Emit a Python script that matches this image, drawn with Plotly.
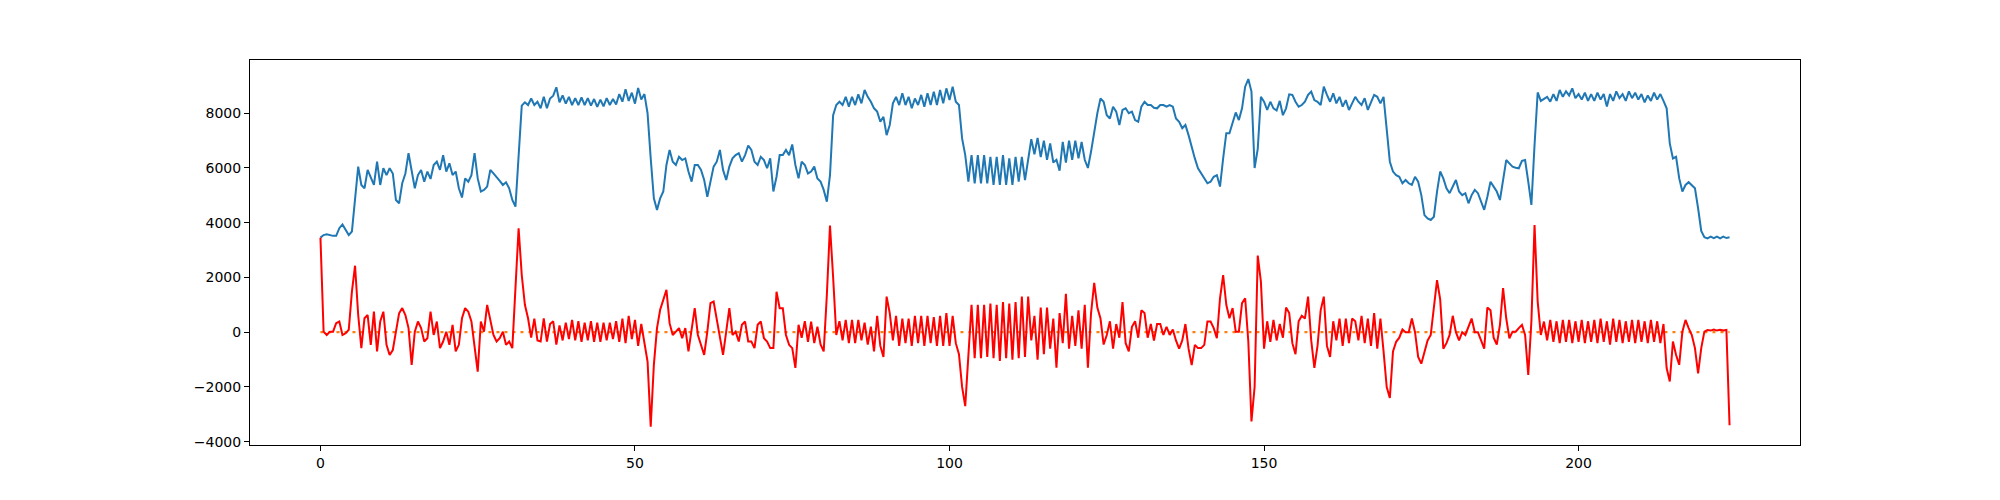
import plotly.graph_objects as go

# sample spacing along x (samples every half unit)
STEP = 0.5

blue = [
    3456, 3550, 3580, 3550, 3520, 3520, 3800, 3940, 3740, 3550,
    3680, 5010, 6050, 5380, 5260, 5930, 5680, 5380, 6230, 5380,
    5990, 5740, 5990, 5800, 4830, 4710, 5440, 5800, 6540, 5870,
    5260, 5740, 5930, 5500, 5870, 5600, 6110, 6230, 5930, 6470,
    5870, 6170, 5740, 5870, 5260, 4920, 5620, 5500, 5740, 6540,
    5620, 5140, 5200, 5320, 5930, 5800, 5680, 5530, 5380, 5480,
    5260, 4830, 4590, 6470, 8280, 8400, 8300, 8540, 8300, 8420,
    8180, 8600, 8180, 8540, 8640, 8950, 8400, 8650, 8350, 8600,
    8300, 8550, 8300, 8580, 8300, 8550, 8280, 8520, 8230, 8500,
    8250, 8550, 8300, 8520, 8320, 8700, 8420, 8880, 8450, 8750,
    8350, 8920, 8500, 8700, 8000, 6350, 4890, 4470, 4890, 5140,
    6110, 6660, 6230, 6110, 6410, 6290, 6350, 5870, 5500, 6110,
    6110, 5930, 5560, 4950, 5560, 6050, 6230, 6660, 5930, 5560,
    6050, 6350, 6470, 6540, 6230, 6470, 6820, 6660, 6230, 6110,
    6410, 6290, 5990, 6350, 5140, 5680, 6470, 6470, 6660, 6470,
    6860, 6110, 5620, 6230, 6110, 5800, 5870, 6050, 5620, 5500,
    5200, 4770, 5740, 7930, 8300, 8420, 8300, 8600, 8240, 8600,
    8300, 8690, 8360, 8850, 8600, 8420, 8180, 8060, 7690, 7870,
    7200, 7570, 8360, 8600, 8300, 8730, 8300, 8600, 8180, 8540,
    8300, 8670, 8240, 8730, 8300, 8790, 8300, 8850, 8360, 8910,
    8480, 8970, 8420, 8300, 7080, 6470, 5500, 6470, 5440, 6470,
    5440, 6470, 5440, 6410, 5380, 6410, 5380, 6470, 5380, 6350,
    5380, 6410, 5500, 6410, 5560, 6300, 7050, 6500, 7100, 6400,
    7000, 6300, 6900, 6200, 6300, 5900, 6950, 6200, 7000, 6300,
    7000, 6350, 6950, 6300, 6000, 6600, 7350, 8000, 8540, 8420,
    7930, 7810, 8240, 8060, 7570, 8120, 8180, 8000, 8060, 7750,
    7690, 8240, 8420, 8300, 8300, 8200, 8180, 8300, 8300, 8240,
    8300, 8240, 7810, 7690, 7450, 7570, 7200, 6720, 6350, 5990,
    5800, 5620, 5440, 5500, 5680, 5740, 5320, 6350, 7270, 7270,
    7690, 8030, 7750, 8180, 8970, 9250, 8790, 6000, 6700, 8600,
    8420, 8120, 8420, 8180, 8100, 8450, 7930, 8180, 8690, 8670,
    8420, 8240, 8300, 8420, 8670, 8790, 8480, 8420, 8300, 8970,
    8670, 8420, 8730, 8360, 8600, 8240, 8480, 8120, 8360, 8600,
    8420, 8300, 8550, 8120, 8400, 8670, 8600, 8360, 8600, 7510,
    6230, 5870, 5740, 5680, 5440, 5560, 5440, 5380, 5680, 5500,
    5010, 4280, 4160, 4100, 4220, 5140, 5870, 5620, 5260, 5080,
    5320, 5560, 5140, 5010, 5080, 4710, 5010, 5200, 5080, 4770,
    4470, 4950, 5500, 5320, 5140, 4830, 5500, 6290, 6170, 6050,
    6010, 5990, 6260, 6290, 5500, 4650, 6840, 8760, 8450, 8540,
    8600, 8420, 8700, 8450, 8850, 8600, 8800, 8650, 8910, 8550,
    8700, 8500, 8750, 8450, 8700, 8450, 8750, 8500, 8700, 8250,
    8700, 8450, 8800, 8550, 8700, 8450, 8800, 8550, 8750, 8500,
    8700, 8400, 8650, 8450, 8750, 8500, 8700, 8450, 8180, 6900,
    6350, 6410, 5620, 5140, 5380, 5480, 5380, 5260, 4530, 3700,
    3470, 3430, 3490, 3440, 3490, 3430, 3490, 3440, 3470,
]

red = [
    3456, 20, -100, 20, 20, 330, 390, -100, -40, 90,
    1480, 2430, 630, -580, 510, 630, -460, 750, -700, 390,
    750, -460, -830, -650, 20, 690, 880, 630, 150, -1190,
    20, 390, 150, -340, -220, 750, -100, 390, -580, -340,
    20, -460, 270, -700, -460, 510, 880, 750, 390, -460,
    -1440, 390, 20, 1000, 510, -100, -340, -220, 20, -460,
    -340, -580, 1610, 3800, 2090, 1000, 510, -200, 500, -300,
    -340, 510, -340, 300, 400, -450, 250, -300, 350, -250,
    450, -300, 400, -350, 350, -300, 400, -350, 350, -350,
    350, -300, 350, -250, 400, -350, 500, -400, 600, -250,
    450, -500, 300, -400, -1070, -3450, -1190, 150, 820, 1180,
    1550, 330, -100, 20, 150, -220, 150, -700, 150, 880,
    -100, -460, -830, 20, 1060, 1120, 510, -220, -830, 20,
    880, -100, 20, -340, 270, 390, -340, -340, -580, 270,
    390, -220, -340, -580, -580, 1480, 880, 880, -100, -460,
    -580, -1300, 270, -200, 400, -350, 390, -400, 200, -450,
    -700, 1360, 3900, 2000, -100, 400, -300, 450, -400, 450,
    -400, 450, -300, 350, -450, 200, -700, 600, -500, -900,
    1300, 700, -300, 600, -500, 500, -400, 500, -500, 600,
    -400, 600, -500, 600, -400, 550, -500, 600, -500, 700,
    -500, 600, -400, -800, -2000, -2700, -1000, 1000, -950, 1000,
    -950, 1000, -900, 1050, -950, 1000, -1050, 1100, -950, 1050,
    -1000, 1100, -950, 1300, -900, 1300, -300, 600, -1000, 900,
    -800, 900, -600, 500, -1300, 700, -400, 1400, -600, 600,
    -500, 800, -600, 1000, -1300, 700, 1800, 900, 500, -450,
    -100, 400, -600, 300, -200, 1100, -400, -700, 200, 400,
    -200, 800, 700, -200, 300, -300, 300, 300, -100, 200,
    -100, 100, -300, -600, -300, 300, -600, -1200, -460, -580,
    -580, -460, 390, 390, 150, -220, 1240, 2090, 1000, 510,
    880, 20, 20, 1060, 1240, -340, -3260, -2000, 2800, 1850,
    -600, 400, -350, 450, -300, 300, -200, 900, 700, -400,
    -800, 400, 600, 500, 1300, -300, -1300, -500, 800, 1300,
    -500, -900, 400, -300, 500, -500, 500, -400, 500, 400,
    -300, 600, -400, 500, -500, 700, -600, 500, -700, -2000,
    -2400, -700, -350, -200, 100, 0, 0, 500, 0, -900,
    -1150, -700, -300, -100, 800, 1900, 1200, -600, -400, -100,
    600, 0, -300, 0, -100, 200, 500, 0, 0, -300,
    -600, 900, 800, -200, -450, 270, 1610, 510, -220, 20,
    20, 150, 270, -100, -1560, 390, 3920, 1120, -100, 390,
    -300, 450, -350, 400, -400, 450, -350, 450, -400, 400,
    -350, 450, -400, 400, -350, 450, -400, 500, -350, 400,
    -450, 500, -350, 450, -400, 400, -350, 450, -400, 450,
    -350, 400, -400, 450, -350, 400, -400, 300, -1310, -1800,
    -340, -830, -1190, 20, 450, 150, -100, -580, -1500, -580,
    20, 80, 60, 100, 60, 90, 60, 80, -3400,
]

baseline_x = [0, 224]
baseline_y = [0, 0]

x_ticks = [0, 50, 100, 150, 200]
y_ticks = [-4000, -2000, 0, 2000, 4000, 6000, 8000]

assert len(blue) == len(red), (len(blue), len(red))
xs = [i * STEP for i in range(len(blue))]

fig = go.Figure()
fig.add_trace(go.Scatter(x=xs, y=blue, mode="lines",
                         line=dict(color="#1f77b4", width=2)))
fig.add_trace(go.Scatter(x=baseline_x, y=baseline_y, mode="lines",
                         line=dict(color="#ff7f0e", width=2.2, dash="3px,5px")))
fig.add_trace(go.Scatter(x=xs, y=red, mode="lines",
                         line=dict(color="#ff0000", width=2)))

axis_common = dict(
    showline=True, linecolor="black", linewidth=1.1, mirror=True,
    ticks="outside", ticklen=5, tickwidth=1.1, tickcolor="black",
    showgrid=False, zeroline=False,
    tickfont=dict(family="DejaVu Sans", size=14, color="black"),
)

# margins compensate for the page's 8px body offset
fig.update_layout(
    width=2000, height=500,
    margin=dict(l=242, r=208, t=52, b=63),
    paper_bgcolor="white", plot_bgcolor="white",
    showlegend=False,
    xaxis=dict(range=[-11.2, 235.2], tickvals=x_ticks, **axis_common),
    yaxis=dict(range=[-4120, 9945], tickvals=y_ticks, **axis_common),
)

fig.write_html("out.html")
